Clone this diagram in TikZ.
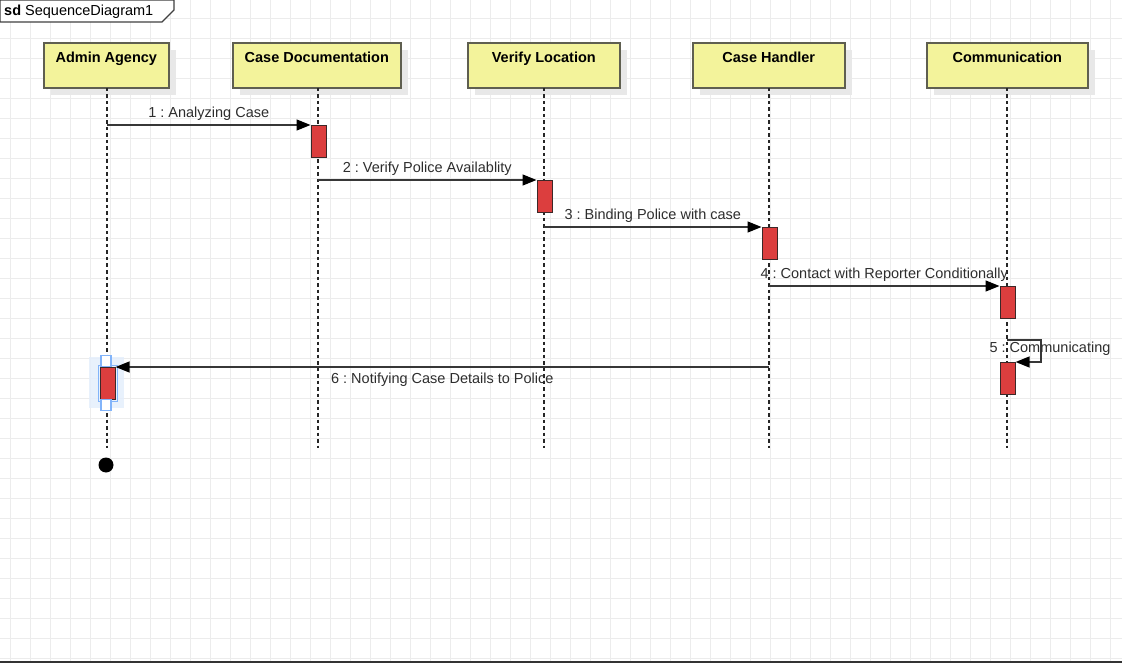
\documentclass[tikz,border=0pt]{standalone}
\usepackage{fontspec}
\setmainfont{Liberation Sans}
\usetikzlibrary{arrows.meta,shadows}
\frenchspacing
\definecolor{boxfill}{RGB}{243,243,155}
\definecolor{boxdraw}{RGB}{95,95,80}
\definecolor{actred}{RGB}{220,62,62}
\definecolor{actborder}{RGB}{60,40,40}
\definecolor{gridc}{RGB}{236,236,236}
\definecolor{shadowc}{RGB}{232,232,232}
\definecolor{msgc}{RGB}{55,55,55}
\definecolor{labelc}{RGB}{45,45,45}
\definecolor{selblue}{RGB}{130,180,250}
\definecolor{selfill}{RGB}{228,238,252}
\begin{document}
\begin{tikzpicture}[x=1pt,y=-1pt,
  font=\fontsize{14.5}{17}\selectfont,
  gridline/.style={draw=gridc, line width=1pt},
  lifebox/.style={draw=boxdraw, line width=1.6pt, fill=boxfill, anchor=north west,
    minimum height=45pt, inner sep=0pt,
    drop shadow={shadow xshift=7pt, shadow yshift=-7pt, fill=shadowc, opacity=1}},
  boxtitle/.style={font=\fontsize{14.5}{17}\selectfont\bfseries, anchor=north, inner sep=0pt},
  lifeline/.style={draw=black!85, line width=1.1pt, dash pattern=on 3.5pt off 3pt},
  act/.style={draw=actborder, line width=1.1pt, fill=actred, anchor=north west,
    minimum width=15pt, minimum height=32pt, inner sep=0pt},
  msg/.style={draw=msgc, line width=1.4pt, -{Triangle[length=14pt,width=11pt,color=black,fill=black]}},
  msglabel/.style={text=labelc, inner sep=4pt},
  handle/.style={draw=selblue, line width=1.2pt, fill=white, minimum width=10pt, minimum height=11pt, inner sep=0pt},
]
\useasboundingbox (0,0) rectangle (1122,663);
% grid
\foreach \gx in {0,...,55} \draw[gridline] (10.5+20*\gx,0) -- (10.5+20*\gx,663);
\foreach \gy in {0,...,32} \draw[gridline] (0,18.3+20*\gy) -- (1122,18.3+20*\gy);
% frame
\draw[draw=black!80, line width=1.8pt] (0,662) -- (1122,662);
\filldraw[fill=white, draw=black!75, line width=1.2pt] (0,0) -- (174,0) -- (174,10) -- (162,22) -- (0,22) -- cycle;
\node[anchor=base west, inner sep=0pt] (sdtitle) at (4,16) {\textbf{sd} SequenceDiagram1};
% lifeline boxes
\node[lifebox, minimum width=125pt] (aa) at (43,42) {};
\node[boxtitle] (aat) at ([yshift=-10pt]aa.north) {Admin Agency};
\node[lifebox, minimum width=168pt] (cd) at (232,42) {};
\node[boxtitle] (cdt) at ([yshift=-10pt]cd.north) {Case Documentation};
\node[lifebox, minimum width=152pt] (vl) at (467,42) {};
\node[boxtitle] (vlt) at ([yshift=-10pt]vl.north) {Verify Location};
\node[lifebox, minimum width=152pt] (ch) at (692,42) {};
\node[boxtitle] (cht) at ([yshift=-10pt]ch.north) {Case Handler};
\node[lifebox, minimum width=161pt] (cm) at (926,42) {};
\node[boxtitle] (cmt) at ([yshift=-10pt]cm.north) {Communication};
% lifelines
\coordinate (aaTop) at (107,88); \coordinate (aaEnd) at (107,448);
\coordinate (cdTop) at (318,88); \coordinate (cdEnd) at (318,448);
\coordinate (vlTop) at (544,88); \coordinate (vlEnd) at (544,448);
\coordinate (chTop) at (769,88); \coordinate (chEnd) at (769,448);
\coordinate (cmTop) at (1007,88); \coordinate (cmEnd) at (1007,448);
\draw[lifeline] (aaTop) -- (aaEnd);
\draw[lifeline] (cdTop) -- (cdEnd);
\draw[lifeline] (vlTop) -- (vlEnd);
\draw[lifeline] (chTop) -- (chEnd);
\draw[lifeline] (cmTop) -- (cmEnd);
% selection highlight
\fill[selfill, opacity=0.85] (89,357) rectangle (124,408);
% activations
\node[act] (a1) at (310.5,125) {};
\node[act] (a2) at (536.5,180) {};
\node[act] (a3) at (761.5,227) {};
\node[act] (a4) at (999.5,286) {};
\node[act] (a5) at (999.5,362) {};
\node[act] (a6) at (99.5,367) {};
\draw[selblue, line width=1pt] ([shift={(-1.5pt,1.5pt)}]a6.north west) rectangle ([shift={(1.5pt,-1.5pt)}]a6.south east);
\node[handle] (h1) at (106,361) {};
\node[handle] (h2) at (106,405) {};
% messages
\draw[msg] (aaTop |- a1.north west) -- node[above, msglabel]{1 : Analyzing Case} (a1.north west);
\draw[msg] (cdTop |- a2.north west) -- node[above, msglabel]{2 : Verify Police Availablity} (a2.north west);
\draw[msg] (vlTop |- a3.north west) -- node[above, msglabel]{3 : Binding Police with case} (a3.north west);
\draw[msg] (chTop |- a4.north west) -- node[above, msglabel]{4 : Contact with Reporter Conditionally} (a4.north west);
\coordinate (s5) at (1041,340);
\draw[msg] (cmTop |- s5) -- (s5) -- (s5 |- a5.north east) -- (a5.north east);
\node[text=labelc, inner sep=0pt] (l5) at (1050,349) {5 : Communicating};
\draw[msg] (chTop |- a6.north east) -- node[below, msglabel, inner sep=5pt]{6 : Notifying Case Details to Police} (a6.north east);
% final state
\node[circle, fill=black, minimum size=15pt, inner sep=0pt] (term) at (106,465) {};
\end{tikzpicture}
\end{document}
